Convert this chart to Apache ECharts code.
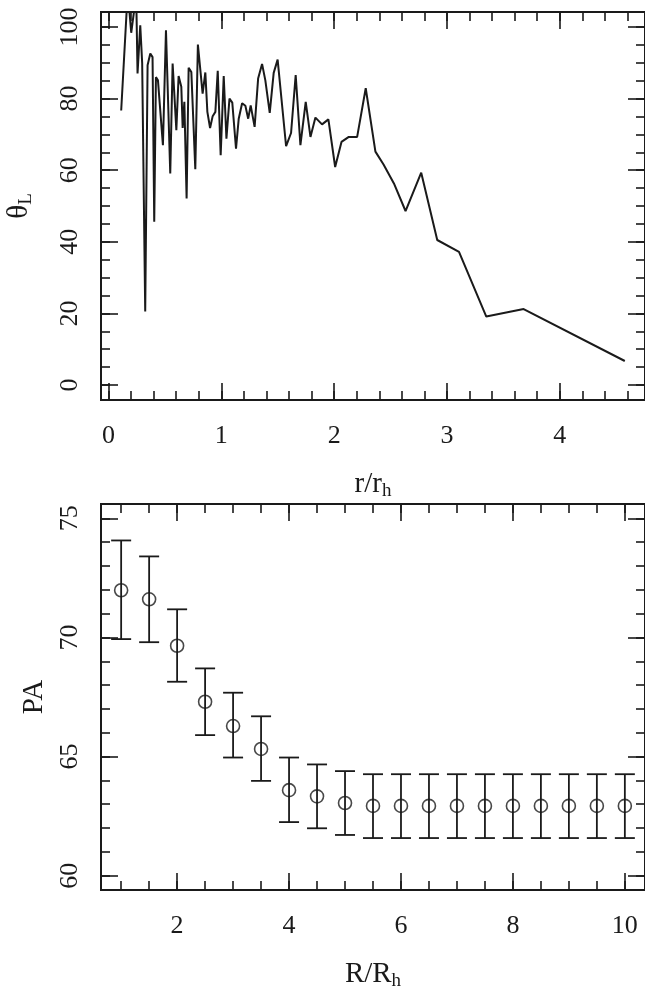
<!DOCTYPE html>
<html>
<head>
<meta charset="utf-8">
<script src="https://cdn.jsdelivr.net/npm/echarts@6/dist/echarts.min.js"></script>
<style>
html, body { margin: 0; padding: 0; background: #fff; }
#chart { width: 645px; height: 986px; }
</style>
</head>
<body>
<div id="chart"></div>
<script>
// upper panel: theta_L against r/r_h
var rTop = [0.112, 0.17, 0.201, 0.245, 0.257, 0.281, 0.298, 0.325, 0.346, 0.37, 0.39, 0.405, 0.42, 0.438,
    0.482, 0.509, 0.547, 0.568, 0.601, 0.621, 0.645, 0.657, 0.672, 0.692, 0.71, 0.734, 0.769, 0.792,
    0.834, 0.858, 0.876, 0.9, 0.923, 0.947, 0.968, 0.994, 1.021, 1.045, 1.072, 1.097, 1.13, 1.154,
    1.184, 1.213, 1.238, 1.26, 1.295, 1.326, 1.361, 1.39, 1.429, 1.464, 1.499, 1.574, 1.618, 1.659,
    1.701, 1.748, 1.79, 1.834, 1.893, 1.949, 2.009, 2.065, 2.13, 2.204, 2.28, 2.366, 2.438, 2.53,
    2.633, 2.772, 2.914, 3.107, 3.349, 3.68, 4.577]
var thetaL = [76.7, 110, 98.4, 109, 87, 100.5, 90, 20.5, 89.3, 92.6, 91.6, 45.6, 86, 85.1,
    67, 99.1, 59.1, 89.8, 71.2, 86.3, 83.3, 71.8, 79.1, 52.1, 88.6, 87.4, 60.3, 95.1,
    81.4, 87.3, 76.3, 71.8, 75.1, 76.3, 87.8, 64.2, 86.3, 68.8, 80, 78.9, 66, 74.4,
    78.7, 78, 74.4, 78.1, 72.1, 85.6, 89.7, 85.1, 76, 87.2, 90.9, 66.7, 70.4, 86.6,
    67, 79.1, 69.3, 74.7, 72.8, 74.2, 60.9, 67.9, 69.3, 69.3, 82.9, 65.2, 61.6, 56.3,
    48.6, 59.3, 40.5, 37.2, 19.1, 21.2, 6.7]

// lower panel: PA against R/R_h, with error bars
var rBot = [1, 1.5, 2, 2.5, 3, 3.5, 4, 4.5, 5, 5.5, 6, 6.5, 7, 7.5, 8, 8.5, 9, 9.5, 10]
var pa = [71.98, 71.6, 69.65, 67.3, 66.28, 65.32, 63.59, 63.33, 63.05, 62.93, 62.93, 62.93, 62.93, 62.93, 62.93, 62.93, 62.93, 62.93, 62.93]
var paHigh = [74.07, 73.4, 71.18, 68.7, 67.68, 66.69, 64.96, 64.67, 64.39, 64.26, 64.26, 64.26, 64.26, 64.26, 64.26, 64.26, 64.26, 64.26, 64.26]
var paLow = [69.93, 69.8, 68.14, 65.9, 64.96, 63.98, 62.25, 61.99, 61.71, 61.58, 61.58, 61.58, 61.58, 61.58, 61.58, 61.58, 61.58, 61.58, 61.58]

// tick labels
var topXTicks = [0, 1, 2, 3, 4]
var topYTicks = [0, 20, 40, 60, 80, 100]
var botXTicks = [2, 4, 6, 8, 10]
var botYTicks = [60, 65, 70, 75]

var ink = '#1a1a1a'
var serif = "'Liberation Serif', 'Times New Roman', serif"

function steps(a, b, s) {
    var out = []
    for (var v = a; v <= b + 1e-9; v += s) out.push(Math.round(v * 1000) / 1000)
    return out
}

// one axis per side for the long ticks and one for the short ones, all pointing inward
function tickAxis(grid, pos, min, max, vals, len, extra) {
    var ax = {
        type: 'value', gridIndex: grid, position: pos, min: min, max: max,
        axisLine: { show: false, onZero: false },
        splitLine: { show: false },
        axisTick: { show: true, inside: true, length: len, customValues: vals, lineStyle: { color: ink, width: 1.6 } },
        axisLabel: { show: false }
    }
    for (var k in extra) ax[k] = extra[k]
    return ax
}

function nameRich() {
    return {
        m: { fontFamily: serif, fontSize: 29, color: ink, lineHeight: 34 },
        s: { fontFamily: serif, fontSize: 19, color: ink, lineHeight: 17, verticalAlign: 'bottom' }
    }
}

function panelAxes(grid, xr, yr, xMaj, xMin, yMaj, yMin, xName, yName, yGap) {
    var xs = [
        tickAxis(grid, 'bottom', xr[0], xr[1], xMaj, 17, {
            axisLabel: { show: true, customValues: xMaj, margin: 23, fontFamily: serif, fontSize: 26, color: ink },
            name: xName, nameLocation: 'middle', nameGap: 67,
            nameTextStyle: { rich: nameRich() }
        }),
        tickAxis(grid, 'bottom', xr[0], xr[1], xMin, 9),
        tickAxis(grid, 'top', xr[0], xr[1], xMaj, 17),
        tickAxis(grid, 'top', xr[0], xr[1], xMin, 9)
    ]
    var ys = [
        tickAxis(grid, 'left', yr[0], yr[1], yMaj, 17, {
            axisLabel: { show: true, customValues: yMaj, rotate: 90, margin: 18, fontFamily: serif, fontSize: 26, color: ink },
            name: yName, nameLocation: 'middle', nameGap: yGap, nameRotate: 90,
            nameTextStyle: { rich: nameRich() }
        }),
        tickAxis(grid, 'left', yr[0], yr[1], yMin, 9),
        tickAxis(grid, 'right', yr[0], yr[1], yMaj, 17),
        tickAxis(grid, 'right', yr[0], yr[1], yMin, 9)
    ]
    return { x: xs, y: ys }
}

var topAxes = panelAxes(0, [-0.067, 4.756], [-4.2, 104.2],
    topXTicks, steps(0, 4.6, 0.2), topYTicks, steps(0, 100, 5),
    '{m|r/r}{s|h}', '{m|θ}{s|L}', 65)
var botAxes = panelAxes(1, [0.64, 10.36], [59.4, 75.6],
    botXTicks, steps(1, 10, 0.5), botYTicks, steps(60, 75, 1),
    '{m|R/R}{s|h}', '{m|PA}', 42)

var lineData = rTop.map(function (r, i) { return [r, thetaL[i]] })
var ptData = rBot.map(function (r, i) { return [r, pa[i]] })
var barData = rBot.map(function (r, i) { return [r, paLow[i], paHigh[i]] })

var myChart = echarts.init(document.getElementById('chart'))
option = {
    backgroundColor: '#fff',
    animation: false,
    grid: [
        { left: 101, top: 12, width: 544, height: 388, show: true, borderColor: ink, borderWidth: 2,
          backgroundColor: 'transparent', containLabel: false, outerBoundsMode: 'none' },
        { left: 101, top: 504, width: 544, height: 386, show: true, borderColor: ink, borderWidth: 2,
          backgroundColor: 'transparent', containLabel: false, outerBoundsMode: 'none' }
    ],
    xAxis: topAxes.x.concat(botAxes.x),
    yAxis: topAxes.y.concat(botAxes.y),
    series: [
        {
            type: 'line', xAxisIndex: 0, yAxisIndex: 0, data: lineData,
            showSymbol: false, clip: true,
            lineStyle: { color: ink, width: 2 }
        },
        {
            type: 'custom', xAxisIndex: 4, yAxisIndex: 4, data: barData,
            encode: { x: 0, y: [1, 2] },
            renderItem: function (params, api) {
                var lo = api.coord([api.value(0), api.value(1)])
                var hi = api.coord([api.value(0), api.value(2)])
                var w = 10
                var st = { stroke: ink, lineWidth: 1.8 }
                return {
                    type: 'group', children: [
                        { type: 'line', shape: { x1: lo[0], y1: lo[1], x2: hi[0], y2: hi[1] }, style: st },
                        { type: 'line', shape: { x1: lo[0] - w, y1: lo[1], x2: lo[0] + w, y2: lo[1] }, style: st },
                        { type: 'line', shape: { x1: hi[0] - w, y1: hi[1], x2: hi[0] + w, y2: hi[1] }, style: st }
                    ]
                }
            }
        },
        {
            type: 'scatter', xAxisIndex: 4, yAxisIndex: 4, data: ptData,
            symbol: 'circle', symbolSize: 13,
            itemStyle: { color: 'rgba(0,0,0,0)', borderColor: ink, borderWidth: 1.6 }
        }
    ]
}
myChart.setOption(option)
</script>
</body>
</html>
